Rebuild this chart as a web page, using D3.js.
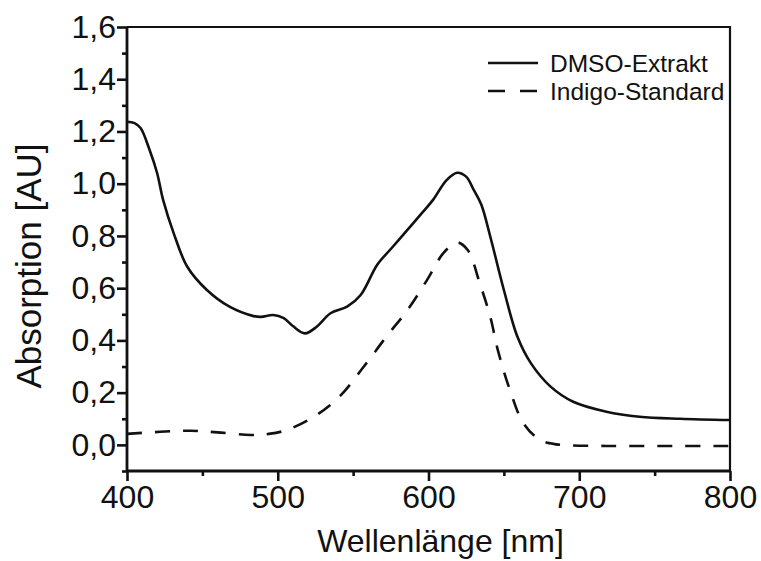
<!DOCTYPE html>
<html>
  <head>
    <meta charset="utf-8">
    <style>
      body { margin: 0; background: #fff; }
      text { font-family: "Liberation Sans", Arial, sans-serif; fill: #111; }
    </style>
  </head>
  <body>
    <div class='chart-container'></div>
    <script src="https://cdn.jsdelivr.net/npm/d3@7/dist/d3.min.js"></script>
    <script>
// wavelength [nm] / absorption [AU]
var dmsoWave = [400, 405, 409, 415, 420, 424, 431, 440, 453, 468, 484, 489, 497, 504, 510, 518, 526, 535,
  546, 555, 566, 575, 586, 596, 603, 612, 619, 625, 630, 635, 641, 650, 659, 668, 681, 696, 718, 740, 767, 800];
var dmsoAbs = [1.237, 1.232, 1.213, 1.129, 1.04, 0.937, 0.81, 0.682, 0.593, 0.529, 0.493, 0.49, 0.497, 0.485, 0.455, 0.427, 0.453, 0.504,
  0.529, 0.574, 0.690, 0.750, 0.823, 0.890, 0.938, 1.014, 1.042, 1.027, 0.976, 0.920, 0.797, 0.593, 0.414, 0.312, 0.223, 0.165, 0.127, 0.108, 0.100, 0.095];

var indigoWave = [400, 422, 442, 460, 482, 494, 506, 524, 541, 557, 572, 586, 599, 610, 619, 626, 634, 641, 646, 654, 663, 674, 685, 718, 762, 800];
var indigoAbs = [0.042, 0.05, 0.054, 0.048, 0.038, 0.042, 0.057, 0.108, 0.185, 0.299, 0.414, 0.516, 0.631, 0.735, 0.775, 0.746, 0.619, 0.49, 0.363, 0.21, 0.083, 0.019, 0.002, -0.004, -0.004, -0.004];

var seriesNames = ['DMSO-Extrakt', 'Indigo-Standard'];
var xTicks = [400, 500, 600, 700, 800];
var yTicks = [0, 0.2, 0.4, 0.6, 0.8, 1.0, 1.2, 1.4, 1.6];

var margin = {top: 27, right: 31, bottom: 90, left: 127};
var width = 761 - margin.left - margin.right;
var height = 561 - margin.top - margin.bottom;

var x = d3.scaleLinear().domain([400, 800]).range([0, width]);
var y = d3.scaleLinear().domain([-0.1, 1.6]).range([height, 0]);

var svg = d3.select('.chart-container').append('svg')
    .attr('width', 761)
    .attr('height', 561)
  .append('g')
    .attr('transform', 'translate(' + margin.left + ',' + margin.top + ')');

var comma = d => d3.format('.1f')(d).replace('.', ',');

// frame (top + right)
svg.append('path')
    .attr('d', 'M0,0H' + width + 'V' + height)
    .style('fill', 'none')
    .style('stroke', '#111')
    .style('stroke-width', 2.2);

// minor ticks
var xAxisMinor = d3.axisBottom(x).tickValues(d3.range(450, 800, 100)).tickSize(5).tickFormat('');
var yAxisMinor = d3.axisLeft(y).tickValues(d3.range(-1, 16, 2).map(d => d / 10)).tickSize(5).tickFormat('');

svg.append('g').attr('class', 'axis')
    .attr('transform', 'translate(0,' + height + ')')
    .call(xAxisMinor);
svg.append('g').attr('class', 'axis')
    .call(yAxisMinor);

var xAxis = d3.axisBottom(x).tickValues(xTicks).tickSize(10).tickPadding(4);
var yAxis = d3.axisLeft(y).tickValues(yTicks).tickSize(10).tickPadding(1).tickFormat(comma);

svg.append('g').attr('class', 'axis')
    .attr('transform', 'translate(0,' + height + ')')
    .call(xAxis);
svg.append('g').attr('class', 'axis')
    .call(yAxis);

svg.selectAll('.axis line')
    .style('stroke', '#111')
    .style('stroke-width', 2.6);
svg.selectAll('.axis text')
    .style('font-size', '32px')
    .style('font-family', '"Liberation Sans", Arial, sans-serif');

// straight domain lines (no outer ticks)
svg.selectAll('.axis .domain').remove();
svg.append('line').attr('x1', 0).attr('x2', width).attr('y1', height).attr('y2', height)
    .style('stroke', '#111').style('stroke-width', 2.8);
svg.append('line').attr('x1', 0).attr('x2', 0).attr('y1', 0).attr('y2', height)
    .style('stroke', '#111').style('stroke-width', 2.8);

// axis titles
svg.append('text')
    .attr('x', width / 2 + 12)
    .attr('y', height + 81)
    .attr('text-anchor', 'middle')
    .style('font-size', '32px')
    .text('Wellenlänge [nm]');

svg.append('text')
    .attr('transform', 'translate(' + (41 - margin.left) + ',' + (266 - margin.top) + ') rotate(-90)')
    .attr('text-anchor', 'middle')
    .style('font-size', '35px')
    .text('Absorption [AU]');

// curves
var line = d3.line()
    .curve(d3.curveCatmullRom.alpha(0.5))
    .x(d => x(d[0]))
    .y(d => y(d[1]));

var dmso = d3.zip(dmsoWave, dmsoAbs);
var indigo = d3.zip(indigoWave, indigoAbs);

svg.append('path')
    .attr('d', line(dmso))
    .style('fill', 'none')
    .style('stroke', '#111')
    .style('stroke-width', 2.6);

svg.append('path')
    .attr('d', line(indigo))
    .style('fill', 'none')
    .style('stroke', '#111')
    .style('stroke-width', 2.6)
    .style('stroke-dasharray', '15,13');

// legend
var legend = svg.append('g')
    .attr('transform', 'translate(' + (488 - margin.left) + ',' + (63 - margin.top) + ')');

seriesNames.forEach(function(name, i) {
  var row = legend.append('g').attr('transform', 'translate(0,' + (i * 28) + ')');
  row.append('line')
      .attr('x1', 0).attr('x2', 50)
      .style('stroke', '#111')
      .style('stroke-width', 2.6)
      .style('stroke-dasharray', i === 0 ? null : '17,15');
  row.append('text')
      .attr('x', 62)
      .attr('y', 9)
      .style('font-size', '24.5px')
      .text(name);
});
    </script>
  </body>
</html>
